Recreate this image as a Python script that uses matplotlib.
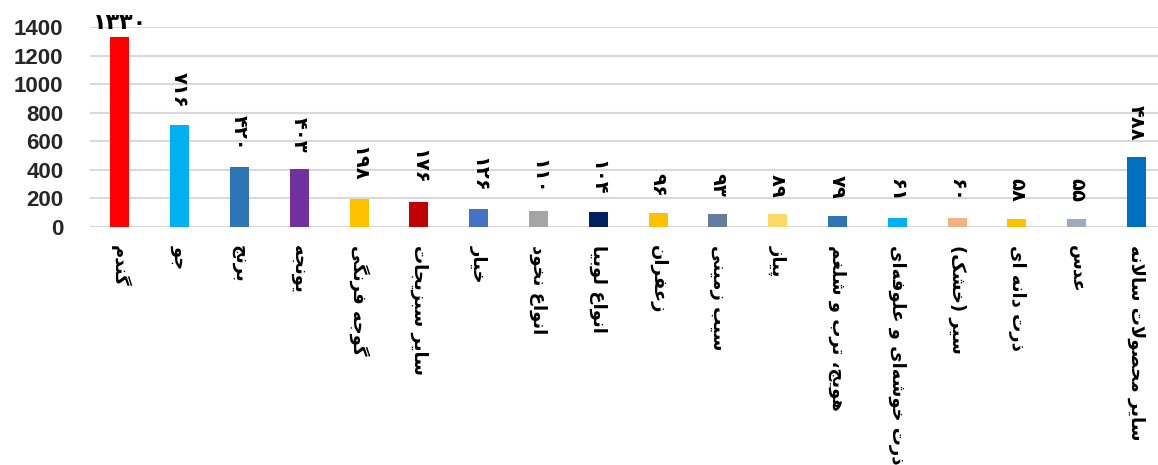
import matplotlib
matplotlib.use("Agg")
import matplotlib.pyplot as plt
from matplotlib.transforms import offset_copy

categories = ["گندم", "جو", "برنج", "یونجه", "گوجه فرنگی", "سایر سبزیجات", "خیار",
              "انواع نخود", "انواع لوبیا", "زعفران", "سیب زمینی", "پیاز",
              "هویج، ترب و شلغم", "ذرت خوشه\u200cای و علوفه\u200cای", "سیر (خشک)",
              "ذرت دانه ای", "عدس", "سایر محصولات سالانه"]
values = [1330, 716, 420, 403, 198, 176, 126, 110, 104, 96, 93, 89, 79, 61, 60, 58, 55, 488]
colors = ["#FF0000", "#00B0F0", "#2E75B6", "#7030A0", "#FFC000", "#C00000", "#4472C4",
          "#A5A5A5", "#002060", "#FFC000", "#647D9E", "#FFD966", "#2E75B6", "#00B0F0",
          "#F4B183", "#FFC000", "#9DAAC0", "#0070C0"]
yticks = [0, 200, 400, 600, 800, 1000, 1200, 1400]

# --- minimal Arabic/Persian shaping (matplotlib has no complex text layout) ---
DUAL = {
    'ب': (0xFE8F, 0xFE90, 0xFE91, 0xFE92), 'ت': (0xFE95, 0xFE96, 0xFE97, 0xFE98),
    'ث': (0xFE99, 0xFE9A, 0xFE9B, 0xFE9C), 'ج': (0xFE9D, 0xFE9E, 0xFE9F, 0xFEA0),
    'ح': (0xFEA1, 0xFEA2, 0xFEA3, 0xFEA4), 'خ': (0xFEA5, 0xFEA6, 0xFEA7, 0xFEA8),
    'س': (0xFEB1, 0xFEB2, 0xFEB3, 0xFEB4), 'ش': (0xFEB5, 0xFEB6, 0xFEB7, 0xFEB8),
    'ص': (0xFEB9, 0xFEBA, 0xFEBB, 0xFEBC), 'ض': (0xFEBD, 0xFEBE, 0xFEBF, 0xFEC0),
    'ط': (0xFEC1, 0xFEC2, 0xFEC3, 0xFEC4), 'ظ': (0xFEC5, 0xFEC6, 0xFEC7, 0xFEC8),
    'ع': (0xFEC9, 0xFECA, 0xFECB, 0xFECC), 'غ': (0xFECD, 0xFECE, 0xFECF, 0xFED0),
    'ف': (0xFED1, 0xFED2, 0xFED3, 0xFED4), 'ق': (0xFED5, 0xFED6, 0xFED7, 0xFED8),
    'ل': (0xFEDD, 0xFEDE, 0xFEDF, 0xFEE0), 'م': (0xFEE1, 0xFEE2, 0xFEE3, 0xFEE4),
    'ن': (0xFEE5, 0xFEE6, 0xFEE7, 0xFEE8), 'ه': (0xFEE9, 0xFEEA, 0xFEEB, 0xFEEC),
    'ی': (0xFBFC, 0xFBFD, 0xFBFE, 0xFBFF), 'ک': (0xFB8E, 0xFB8F, 0xFB90, 0xFB91),
    'گ': (0xFB92, 0xFB93, 0xFB94, 0xFB95), 'پ': (0xFB56, 0xFB57, 0xFB58, 0xFB59),
    'چ': (0xFB7A, 0xFB7B, 0xFB7C, 0xFB7D),
}
RIGHT = {
    'ا': (0xFE8D, 0xFE8E), 'آ': (0xFE81, 0xFE82), 'د': (0xFEA9, 0xFEAA),
    'ذ': (0xFEAB, 0xFEAC), 'ر': (0xFEAD, 0xFEAE), 'ز': (0xFEAF, 0xFEB0),
    'ژ': (0xFB8A, 0xFB8B), 'و': (0xFEED, 0xFEEE),
}


def shape(s):
    out = []
    i = 0
    n = len(s)
    while i < n:
        c = s[i]
        prev_c = s[i - 1] if i > 0 else ''
        p = prev_c in DUAL
        if c == 'ل' and i + 1 < n and s[i + 1] == 'ا':
            out.append(chr(0xFEFC if p else 0xFEFB))
            i += 2
            continue
        if c in DUAL:
            nxt = s[i + 1] if i + 1 < n else ''
            nx = nxt in DUAL or nxt in RIGHT
            f = DUAL[c]
            out.append(chr(f[3] if (p and nx) else f[1] if p else f[2] if nx else f[0]))
        elif c in RIGHT:
            f = RIGHT[c]
            out.append(chr(f[1] if p else f[0]))
        elif c == '\u200c':
            pass
        else:
            out.append(c)
        i += 1
    out = out[::-1]
    mirror = {'(': ')', ')': '('}
    return ''.join(mirror.get(ch, ch) for ch in out)


def fa_digits(v):
    return str(v).translate(str.maketrans('0123456789', '۰۱۲۳۴۵۶۷۸۹'))


W, H = 1158, 465
fig = plt.figure(figsize=(W / 100, H / 100), dpi=100)
ax_left, ax_right = 90, 1158
ax_top, ax_bot = 27, 227
ax = fig.add_axes([ax_left / W, (H - ax_bot) / H, (ax_right - ax_left) / W, (ax_bot - ax_top) / H])

x = list(range(len(values)))
ax.bar(x, values, width=0.32, color=colors, zorder=3)
ax.set_xlim(-0.5, 17.36)
ax.set_ylim(0, 1400)
ax.set_yticks(yticks)
ax.set_yticklabels([str(t) for t in yticks], fontfamily='Liberation Sans',
                   fontweight='bold', fontsize=16, color='#262626')
ax.grid(axis='y', color='#D9D9D9', linewidth=1.5, zorder=0)
for sp in ax.spines.values():
    sp.set_visible(False)
ax.tick_params(axis='y', length=0, pad=19)
ax.tick_params(axis='x', length=0, pad=13)
ax.set_xticks(x)
ax.set_xticklabels([shape(c) for c in categories], rotation=270, ha='center', va='top',
                   fontfamily='DejaVu Sans', fontweight='bold', fontsize=13, color='black')

for i, v in enumerate(values):
    if i == 0:
        tr = offset_copy(ax.transData, fig=fig, x=0, y=3, units='points')
        ax.text(i, v, fa_digits(v), transform=tr, ha='center', va='bottom',
                fontsize=16, fontweight='bold', fontfamily='DejaVu Sans', clip_on=False)
    else:
        tr = offset_copy(ax.transData, fig=fig, x=0, y=12, units='points')
        ax.text(i, v, fa_digits(v), transform=tr, ha='center', va='bottom',
                rotation=270, rotation_mode='default', fontsize=14, fontweight='bold',
                fontfamily='DejaVu Sans', clip_on=False)

fig.savefig('out.png', dpi=100)
